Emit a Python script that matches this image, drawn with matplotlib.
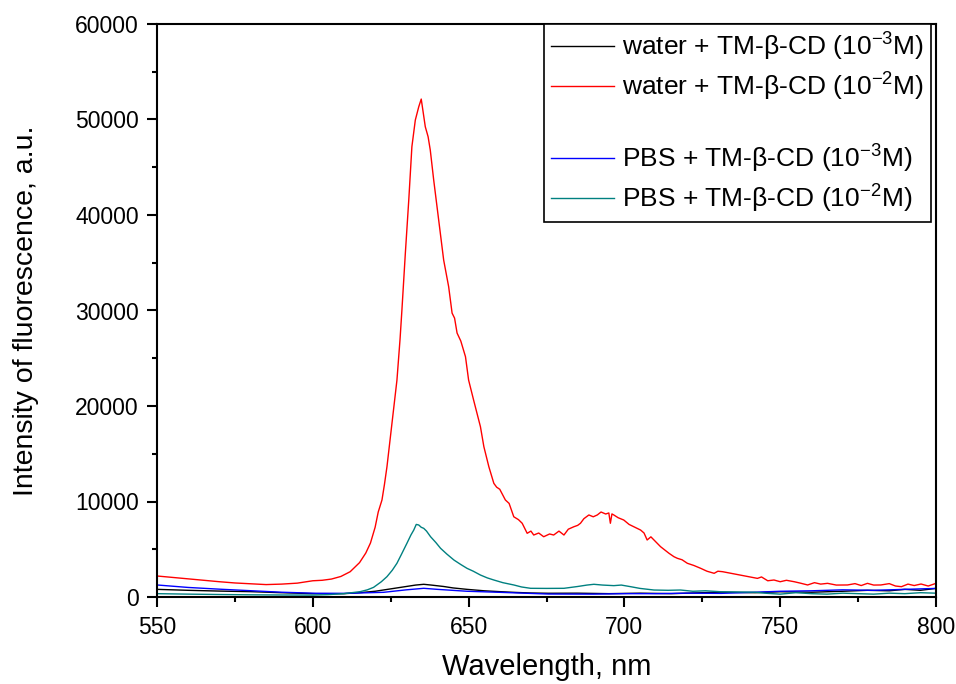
import matplotlib
matplotlib.use("Agg")
import matplotlib.pyplot as plt
from matplotlib.ticker import MultipleLocator
from matplotlib.lines import Line2D

plt.rcParams['font.family'] = ['Liberation Sans', 'DejaVu Sans']
plt.rcParams['mathtext.fontset'] = 'custom'
plt.rcParams['mathtext.rm'] = 'Liberation Sans'
plt.rcParams['mathtext.it'] = 'Liberation Sans:italic'
plt.rcParams['mathtext.bf'] = 'Liberation Sans:bold'

# ---- data ----
red_x = [550, 555, 560, 565, 570, 575, 580, 585, 590, 595, 600, 603, 606, 609, 612, 615, 617, 618.5,
         620, 621, 622.2, 623, 623.8, 624.6, 625.4, 626.2, 627, 628, 628.6, 629.7, 630.8, 631.8,
         632.9, 634, 634.8, 635.3, 636.1, 637, 637.7, 638.8, 640.4, 642, 643, 643.6, 644.7, 645.5,
         646.3, 647.5, 649, 650, 651.6, 653.8, 654.9, 656.5, 658.1, 659, 660, 661.8, 663, 664.5,
         666, 667.2, 668.8, 670, 670.9, 672.5, 674.1, 676, 677.3, 679, 680.6, 682, 683.8, 685,
         685.9, 687, 688.6, 690, 691.3, 692.5, 694, 695, 695.5, 696, 696.6, 698, 699.8, 701.5,
         703, 705.2, 706.3, 707.3, 708.5, 709.5, 711.6, 714.3, 715.9, 717, 718.5, 720.2, 722.3,
         724.5, 726.5, 728.8, 730, 731.5, 742.7, 744, 746, 748, 750, 752, 754.5, 756.5, 758.8,
         761, 763, 765.2, 768, 771.6, 774, 776, 778, 780, 782.3, 785, 787, 788.9, 791, 793,
         795.2, 797.5, 800]
red_y = [2200, 2050, 1900, 1750, 1600, 1470, 1380, 1300, 1350, 1450, 1700, 1750, 1880, 2150, 2650,
         3600, 4600, 5650, 7300, 8900, 10160, 11800, 13640, 15900, 18200, 20500, 22700, 27000,
         30050, 36000, 41570, 47150, 49940, 51330, 52140, 51000, 49240, 48200, 46800, 43660,
         39470, 35280, 33500, 32490, 29730, 29200, 27640, 26800, 25160, 22720, 20630, 17830,
         15740, 13640, 11900, 11500, 11280, 10160, 9800, 8400, 8100, 7720, 6670, 6900, 6490,
         6700, 6310, 6600, 6490, 6900, 6490, 7100, 7360, 7500, 7720, 8200, 8590, 8400, 8590,
         8900, 8690, 8800, 7720, 8700, 8590, 8300, 8060, 7600, 7360, 7010, 6700, 5970, 6300,
         5970, 5270, 4580, 4220, 4050, 3900, 3530, 3300, 3000, 2700, 2480, 2700, 2650, 1950,
         2100, 1700, 1780, 1600, 1750, 1600, 1450, 1260, 1500, 1350, 1430, 1250, 1260, 1400,
         1200, 1430, 1250, 1260, 1400, 1150, 1080, 1350, 1200, 1360, 1150, 1430]

teal_x = [550, 560, 570, 580, 590, 600, 605, 610, 615.2, 617.5, 619.5, 622, 623.8, 625.5, 627,
          628.5, 630.2, 631.5, 632.4, 633.2, 634, 634.8, 635.6, 636.5, 637.8, 639.5, 641, 643,
          645.3, 647.5, 649.5, 651.5, 653.8, 656, 658.1, 661, 664.5, 667, 669.9, 675, 680.6,
          685, 688, 690.2, 693, 696.6, 699, 702, 705, 709.5, 714, 718, 722, 726, 731, 742, 745,
          750, 755, 760, 765, 770, 775, 780, 785, 790, 795, 800]
teal_y = [350, 300, 260, 230, 210, 200, 250, 350, 560, 750, 1010, 1600, 2130, 2800, 3530, 4500,
          5620, 6500, 7010, 7600, 7540, 7300, 7190, 6900, 6310, 5700, 5100, 4500, 3870, 3400,
          3000, 2700, 2300, 2000, 1780, 1500, 1260, 1050, 910, 900, 910, 1100, 1250, 1330, 1250,
          1190, 1250, 1080, 900, 730, 700, 730, 600, 650, 550, 500, 400, 300, 450, 350, 300,
          400, 350, 300, 400, 350, 450, 400]

black_x = [550, 560, 570, 580, 590, 600, 610, 615, 620, 625, 630, 633, 635.6, 638, 642, 645, 649.5,
           655, 660, 665, 670, 675.6, 685, 695, 705, 715, 725, 731, 742, 750, 760, 770, 778,
           785, 790, 795, 800]
black_y = [800, 700, 620, 560, 450, 350, 350, 450, 600, 850, 1100, 1250, 1330, 1250, 1100, 950,
           800, 650, 560, 480, 420, 390, 400, 350, 400, 350, 450, 500, 450, 550, 500, 600, 700,
           650, 800, 700, 900]

blue_x = [550, 560, 570, 580, 590, 601, 610, 622.7, 630, 635.6, 640, 649.5, 660, 675.6, 690, 700,
          710, 720, 731, 742, 750, 760, 770, 780, 790, 800]
blue_y = [1260, 1000, 820, 660, 500, 390, 380, 490, 750, 910, 800, 600, 490, 310, 300, 350, 350,
          400, 380, 500, 600, 650, 750, 700, 800, 900]

labels = ['water + TM-β-CD (10$^{-3}$M)',
          'water + TM-β-CD (10$^{-2}$M)',
          'PBS + TM-β-CD (10$^{-3}$M)',
          'PBS + TM-β-CD (10$^{-2}$M)']
colors = ['#000000', '#ff0000', '#0000ff', '#008080']

fig = plt.figure(figsize=(9.56, 6.84), dpi=100)
ax = fig.add_axes([157/956, 1 - 597/684, (936-157)/956, (597-24)/684])

l1, = ax.plot(black_x, black_y, color=colors[0], lw=1.0)
l2, = ax.plot(red_x, red_y, color=colors[1], lw=1.0)
l3, = ax.plot(blue_x, blue_y, color=colors[2], lw=1.0)
l4, = ax.plot(teal_x, teal_y, color=colors[3], lw=1.0)

ax.set_xlim(550, 800)
ax.set_ylim(0, 60000)
ax.xaxis.set_major_locator(MultipleLocator(50))
ax.xaxis.set_minor_locator(MultipleLocator(25))
ax.yaxis.set_major_locator(MultipleLocator(10000))
ax.yaxis.set_minor_locator(MultipleLocator(5000))
ax.tick_params(which='major', direction='out', length=7, width=1.5, labelsize=16.5, pad=7)
ax.tick_params(which='minor', direction='out', length=3.5, width=1.5)
ax.tick_params(axis='y', which='major', pad=6)
for s in ax.spines.values():
    s.set_linewidth(1.5)

ax.set_xlabel('Wavelength, nm', fontsize=21)
ax.set_ylabel('Intensity of fluorescence, a.u.', fontsize=20.5)
ax.xaxis.set_label_coords(0.5, -0.097)
ax.yaxis.set_label_coords(-0.152, 0.5)

blank = Line2D([], [], color='none')
leg = ax.legend([l1, l2, blank, l3, l4],
                [labels[0], labels[1], ' ', labels[2], labels[3]],
                loc='upper right', bbox_to_anchor=(0.9935, 1.0), fontsize=19,
                frameon=True, fancybox=False, framealpha=1, edgecolor='black',
                handlelength=2.4, handletextpad=0.3, borderpad=0.25, labelspacing=0.3,
                borderaxespad=0)
leg.get_frame().set_linewidth(1.2)

fig.savefig('out.png', dpi=100)
